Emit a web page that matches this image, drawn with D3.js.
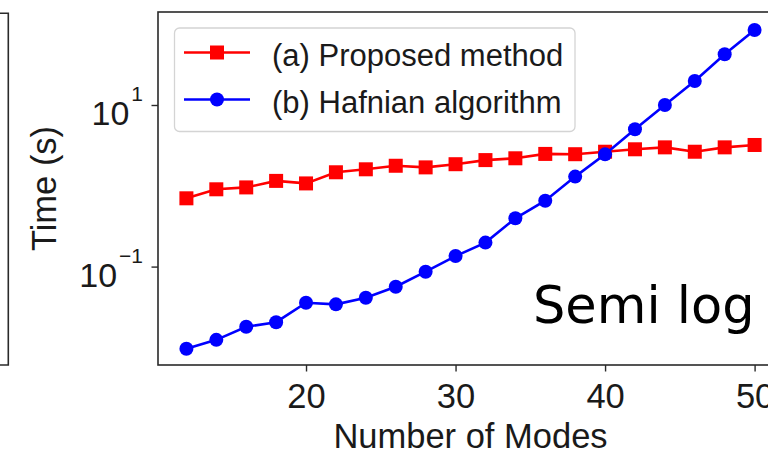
<!DOCTYPE html>
<html>
<head>
<meta charset="utf-8">
<script src="https://cdn.jsdelivr.net/npm/d3@7"></script>
<style>
  html, body { margin: 0; padding: 0; background: #fff; }
  svg { display: block; }
  text { font-family: "Liberation Sans", Arial, sans-serif; fill: #1a1a1a; }
</style>
</head>
<body>
<svg id="chart" width="768" height="452"></svg>
<script>
// ---- data ----
const modes = [12, 14, 16, 18, 20, 22, 24, 26, 28, 30, 32, 34, 36, 38, 40, 42, 44, 46, 48, 50];
const proposed = [0.70, 0.905, 0.955, 1.15, 1.07, 1.47, 1.60, 1.77, 1.69, 1.85, 2.08, 2.19, 2.48, 2.46, 2.64, 2.83, 2.99, 2.64, 2.99, 3.20];
const hafnian = [0.0096, 0.0124, 0.0180, 0.0205, 0.0357, 0.0341, 0.0412, 0.0564, 0.0865, 0.135, 0.198, 0.396, 0.654, 1.30, 2.45, 5.0, 10.0, 19.8, 42.4, 84.8];
const seriesNames = ["(a) Proposed method", "(b) Hafnian algorithm"];
const xTicks = [20, 30, 40, 50];
const yTicks = [0.1, 10];
const xLabel = "Number of Modes";
const yLabel = "Time (s)";
const annotation = "Semi log";

// ---- layout ----
const svg = d3.select("#chart");
const pLeft = 158, pTop = 12, pBottom = 365, pRight = 783;
const x = d3.scaleLinear().domain([10.1, 51.9]).range([pLeft, pRight]);
const y = d3.scaleLog().domain([Math.pow(10, -2.218), Math.pow(10, 2.151)]).range([pBottom, pTop]);

// partial neighbouring panel frame
svg.append("path")
  .attr("d", `M0,13.3H8.3V365H0`)
  .attr("fill", "none").attr("stroke", "#2a2a2a").attr("stroke-width", 1.6);

// axes frame
svg.append("rect")
  .attr("x", pLeft).attr("y", pTop).attr("width", pRight - pLeft).attr("height", pBottom - pTop)
  .attr("fill", "none").attr("stroke", "#2a2a2a").attr("stroke-width", 1.6);

// x axis
const xAxis = svg.append("g").attr("transform", `translate(0,${pBottom})`)
  .call(d3.axisBottom(x).tickValues(xTicks).tickSize(6.5).tickPadding(11).tickFormat(d3.format("d")));
xAxis.select(".domain").remove();
xAxis.selectAll("line").attr("stroke", "#2a2a2a").attr("stroke-width", 1.4);
xAxis.selectAll("text").attr("font-size", 34.5).attr("fill", "#1a1a1a")
  .attr("font-family", "'Liberation Sans', Arial, sans-serif").attr("dy", null).attr("y", 43);

// y axis ticks
const yAxis = svg.append("g").attr("transform", `translate(${pLeft},0)`)
  .call(d3.axisLeft(y).tickValues(yTicks).tickSize(6.5).tickFormat(""));
yAxis.select(".domain").remove();
yAxis.selectAll("line").attr("stroke", "#2a2a2a").attr("stroke-width", 1.4);
yTicks.forEach(v => {
  const exp = Math.round(Math.log10(v));
  const t = svg.append("text")
    .attr("x", 143).attr("y", y(v) + 20.5)
    .attr("text-anchor", "end").attr("font-size", 34);
  t.append("tspan").text("10");
  t.append("tspan").attr("font-size", 21).attr("dx", 2).attr("dy", -24)
    .text(exp < 0 ? "\u2212" + Math.abs(exp) : String(exp));
});

// axis labels
svg.append("text").attr("x", (pLeft + pRight) / 2).attr("y", 448)
  .attr("text-anchor", "middle").attr("font-size", 34.5).text(xLabel);
svg.append("text").attr("transform", `translate(55.5,${(pTop + pBottom) / 2}) rotate(-90)`)
  .attr("text-anchor", "middle").attr("font-size", 34.5).text(yLabel);

// series
const line = d3.line().x((d, i) => x(modes[i])).y(d => y(d));
const red = "#ff0000", blue = "#0000ff";
svg.append("path").datum(proposed).attr("d", line)
  .attr("fill", "none").attr("stroke", red).attr("stroke-width", 2.6);
svg.append("g").selectAll("rect").data(proposed).join("rect")
  .attr("x", (d, i) => x(modes[i]) - 7).attr("y", d => y(d) - 7)
  .attr("width", 14).attr("height", 14).attr("fill", red);
svg.append("path").datum(hafnian).attr("d", line)
  .attr("fill", "none").attr("stroke", blue).attr("stroke-width", 2.6);
svg.append("g").selectAll("circle").data(hafnian).join("circle")
  .attr("cx", (d, i) => x(modes[i])).attr("cy", d => y(d))
  .attr("r", 7).attr("fill", blue);

// legend
const lg = svg.append("g");
lg.append("rect").attr("x", 174.5).attr("y", 28).attr("width", 400.5).attr("height", 103.5)
  .attr("rx", 5).attr("fill", "#fff").attr("fill-opacity", 0.85)
  .attr("stroke", "#d4d4d4").attr("stroke-width", 1.3);
const rows = [{ c: red, shape: "square", yy: 52.5 }, { c: blue, shape: "circle", yy: 99.5 }];
rows.forEach((r, i) => {
  lg.append("line").attr("x1", 184).attr("x2", 250).attr("y1", r.yy).attr("y2", r.yy)
    .attr("stroke", r.c).attr("stroke-width", 2.6);
  if (r.shape === "square") {
    lg.append("rect").attr("x", 217 - 7).attr("y", r.yy - 7).attr("width", 14).attr("height", 14).attr("fill", r.c);
  } else {
    lg.append("circle").attr("cx", 217).attr("cy", r.yy).attr("r", 7).attr("fill", r.c);
  }
  lg.append("text").attr("x", 272).attr("y", r.yy + 13.5).attr("font-size", 31).text(seriesNames[i]);
});

// annotation
svg.append("text").attr("x", 533).attr("y", 323)
  .attr("font-size", 51)
  .style("font-family", "'DejaVu Sans', Verdana, sans-serif").style("fill", "#000").text(annotation);
</script>
</body>
</html>
